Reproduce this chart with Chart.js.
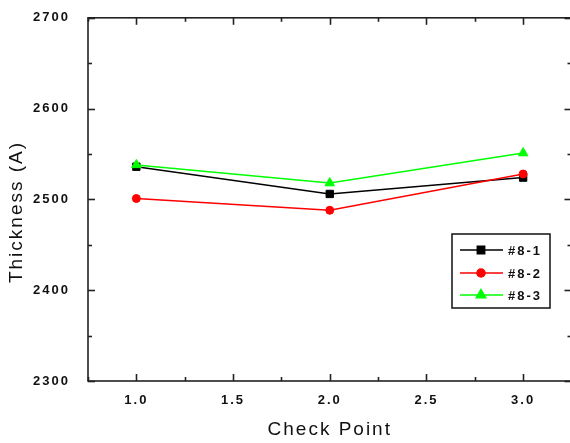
<!DOCTYPE html>
<html>
<head>
<meta charset="utf-8">
<script src="https://cdn.jsdelivr.net/npm/chart.js@4"></script>
<style>
    html, body { margin: 0; padding: 0; background: #fff; overflow: hidden; }
    #wrap { width: 578px; height: 443px; }
</style>
</head>
<body>
<div id="wrap"><canvas id="thicknessChart" width="578" height="443"></canvas></div>
<script>
const checkPoints = [1, 2, 3];
const series81 = [2536, 2506, 2524];
const series82 = [2501, 2488, 2528];
const series83 = [2538, 2518, 2551];
const seriesNames = ['#8-1', '#8-2', '#8-3'];
const xTickValues = [1.0, 1.5, 2.0, 2.5, 3.0];
const xTickLabels = ['1.0', '1.5', '2.0', '2.5', '3.0'];
const xMinorValues = [0.75, 1.25, 1.75, 2.25, 2.75, 3.25];
const yTickValues = [2300, 2400, 2500, 2600, 2700];
const yMinorValues = [2350, 2450, 2550, 2650];

const INK = '#111';

function toPoints(values) {
    return checkPoints.map((x, i) => ({ x: x, y: values[i] }));
}

// letter spacing like the old bitmap fonts
const spacingPlugin = {
    id: 'spacing',
    beforeUpdate: (chart) => { chart.ctx.letterSpacing = '2px'; },
    beforeDraw: (chart) => { chart.ctx.letterSpacing = '2px'; }
};

// closed frame with inward ticks on all four sides, plus y title and legend box
const framePlugin = {
    id: 'frame',
    afterDraw: (chart) => {
        const ctx = chart.ctx;
        const a = chart.chartArea;
        const xs = chart.scales.x, ys = chart.scales.y;
        ctx.save();
        ctx.strokeStyle = '#222';
        ctx.lineWidth = 1.6;
        ctx.strokeRect(a.left, a.top, a.right - a.left, a.bottom - a.top);

        const tick = (x1, y1, x2, y2) => { ctx.beginPath(); ctx.moveTo(x1, y1); ctx.lineTo(x2, y2); ctx.stroke(); };
        xTickValues.forEach(v => {
            const px = Math.round(xs.getPixelForValue(v)) + 0.5;
            tick(px, a.bottom, px, a.bottom - 7);
            tick(px, a.top, px, a.top + 7);
        });
        xMinorValues.forEach(v => {
            const px = Math.round(xs.getPixelForValue(v)) + 0.5;
            tick(px, a.bottom, px, a.bottom - 4);
            tick(px, a.top, px, a.top + 4);
        });
        yTickValues.forEach(v => {
            const py = Math.round(ys.getPixelForValue(v)) + 0.5;
            tick(a.left, py, a.left + 7, py);
            tick(a.right, py, a.right - 7, py);
        });
        yMinorValues.forEach(v => {
            const py = Math.round(ys.getPixelForValue(v)) + 0.5;
            tick(a.left, py, a.left + 4, py);
            tick(a.right, py, a.right - 4, py);
        });

        // y axis title
        ctx.save();
        ctx.translate(17, 212);
        ctx.rotate(-Math.PI / 2);
        ctx.fillStyle = INK;
        ctx.font = '19px "Liberation Sans", Arial, sans-serif';
        ctx.textAlign = 'center';
        ctx.textBaseline = 'middle';
        ctx.fillText('Thickness (A)', 0, 0);
        ctx.restore();

        // legend
        const box = { left: 452, top: 234, width: 98, height: 74 };
        ctx.lineWidth = 1.5;
        ctx.strokeStyle = '#111';
        ctx.strokeRect(box.left, box.top, box.width, box.height);
        const rowY = [250, 273, 295];
        ctx.font = 'bold 13px "Liberation Sans", Arial, sans-serif';
        ctx.textBaseline = 'middle';
        ctx.textAlign = 'left';
        chart.data.datasets.forEach((ds, i) => {
            const y = rowY[i];
            ctx.strokeStyle = ds.borderColor;
            ctx.lineWidth = 1.5;
            tick(460, y, 503, y);
            ctx.fillStyle = ds.backgroundColor;
            Chart.helpers.drawPoint(ctx, {
                pointStyle: ds.pointStyle, radius: ds.pointRadius, rotation: 0, borderWidth: 1
            }, 481, y);
            ctx.fill();
            ctx.fillStyle = INK;
            ctx.fillText(ds.label, 508, y + 1);
        });
        ctx.restore();
    }
};

new Chart(document.getElementById('thicknessChart'), {
    type: 'line',
    data: {
        datasets: [
            { label: seriesNames[0], data: toPoints(series81), borderColor: '#000', backgroundColor: '#000',
              pointStyle: 'rect', pointRadius: 5.2, order: 2 },
            { label: seriesNames[1], data: toPoints(series82), borderColor: '#ff0000', backgroundColor: '#ff0000',
              pointStyle: 'circle', pointRadius: 4, order: 1 },
            { label: seriesNames[2], data: toPoints(series83), borderColor: '#00ff00', backgroundColor: '#00ff00',
              pointStyle: 'triangle', pointRadius: 5.5, order: 0 }
        ]
    },
    options: {
        responsive: false,
        animation: false,
        events: [],
        layout: { padding: { top: 15, right: 0, left: 0, bottom: 0 } },
        elements: {
            line: { borderWidth: 1.5, tension: 0 },
            point: { borderWidth: 1 }
        },
        plugins: {
            legend: { display: false },
            tooltip: { enabled: false }
        },
        scales: {
            x: {
                type: 'linear',
                min: 0.75,
                max: 3.25,
                grid: { display: false },
                border: { display: false },
                afterBuildTicks: (scale) => { scale.ticks = xTickValues.map(v => ({ value: v })); },
                afterFit: (scale) => {
                    scale.height = 62;
                    scale.paddingLeft = 0;
                    scale.paddingRight = 0;
                },
                ticks: {
                    autoSkip: false,
                    maxRotation: 0,
                    padding: 4,
                    color: INK,
                    font: { family: '"Liberation Sans", Arial, sans-serif', size: 13, weight: 'bold' },
                    callback: (value) => xTickLabels[xTickValues.indexOf(value)]
                },
                title: {
                    display: true,
                    text: 'Check Point',
                    color: INK,
                    font: { family: '"Liberation Sans", Arial, sans-serif', size: 19 },
                    padding: { top: 0, bottom: 2 }
                }
            },
            y: {
                min: 2300,
                max: 2700,
                grid: { display: false },
                border: { display: false },
                afterBuildTicks: (scale) => { scale.ticks = yTickValues.map(v => ({ value: v })); },
                afterFit: (scale) => { scale.width = 88; },
                ticks: {
                    padding: 10,
                    color: INK,
                    font: { family: '"Liberation Sans", Arial, sans-serif', size: 13, weight: 'bold' },
                    callback: (value) => String(value)
                }
            }
        }
    },
    plugins: [spacingPlugin, framePlugin]
});
</script>
</body>
</html>
